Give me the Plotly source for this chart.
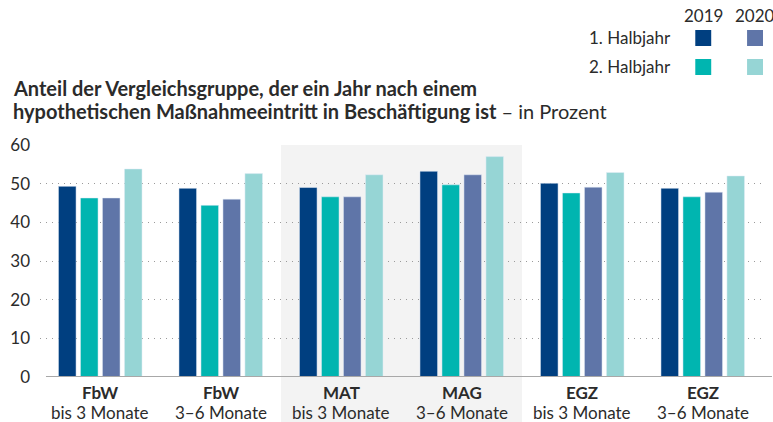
import plotly.graph_objects as go

# ---- data ----
cat_bold = ["FbW", "FbW", "MAT", "MAG", "EGZ", "EGZ"]
cat_sub = ["bis 3 Monate", "3–6 Monate", "bis 3 Monate", "3–6 Monate", "bis 3 Monate", "3–6 Monate"]
h1_2019 = [49.3, 48.8, 49.0, 53.2, 50.1, 48.8]
h2_2019 = [46.3, 44.4, 46.6, 49.7, 47.6, 46.6]
h1_2020 = [46.3, 46.0, 46.6, 52.3, 49.1, 47.8]
h2_2020 = [53.8, 52.6, 52.3, 57.0, 52.9, 52.0]
y_ticks = [0, 10, 20, 30, 40, 50, 60]

C_H1_19 = "#003f80"
C_H2_19 = "#00b5b0"
C_H1_20 = "#5f75a8"
C_H2_20 = "#96d5d5"

FONT = "Lato"
TXT = "#2b2b2b"

W, H = 773, 422
L, R, T, B = 37, 10, 145, 45
PW = W - L - R
PH = H - T - B


def px(x):
    return (x - L) / PW


def py(y):
    return (H - B - y) / PH


xs = list(range(len(cat_bold)))
fig = go.Figure()
for vals, col, name in [
    (h1_2019, C_H1_19, "2019 1. Halbjahr"),
    (h2_2019, C_H2_19, "2019 2. Halbjahr"),
    (h1_2020, C_H1_20, "2020 1. Halbjahr"),
    (h2_2020, C_H2_20, "2020 2. Halbjahr"),
]:
    fig.add_trace(go.Bar(x=xs, y=vals, marker_color=col, name=name,
                         showlegend=False, hoverinfo="y+name"))

shapes = []
# shaded background MAT / MAG
shapes.append(dict(type="rect", xref="x", yref="paper", x0=1.5, x1=3.5,
                   y0=py(H + 5), y1=1.0, fillcolor="#f3f3f3",
                   line_width=0, layer="below"))
# base line
shapes.append(dict(type="line", xref="paper", yref="y", x0=px(43), x1=px(772),
                   y0=0, y1=0, line=dict(color="#a8a8a8", width=2)))

annotations = []
# x labels
for i, (b, s) in enumerate(zip(cat_bold, cat_sub)):
    annotations.append(dict(x=i, y=py(392), xref="x", yref="paper", text=f"<b>{b}</b>",
                            showarrow=False, font=dict(size=17, color=TXT, family=FONT),
                            xanchor="center", yanchor="middle"))
    annotations.append(dict(x=i, y=py(412), xref="x", yref="paper", text=s,
                            showarrow=False, font=dict(size=17, color=TXT, family=FONT),
                            xanchor="center", yanchor="middle"))

# title
annotations.append(dict(x=px(8), y=py(88), xref="paper", yref="paper",
                        text="<b>Anteil der Vergleichsgruppe, der ein Jahr nach einem</b>",
                        showarrow=False, font=dict(size=20, color=TXT, family=FONT),
                        xanchor="left", yanchor="middle"))
annotations.append(dict(x=px(8), y=py(111), xref="paper", yref="paper",
                        text="<b>hypothetischen Maßnahmeeintritt in Beschäftigung ist</b> – in Prozent",
                        showarrow=False, font=dict(size=20, color=TXT, family=FONT),
                        xanchor="left", yanchor="middle"))

# legend
for yr, cx in [("2019", 703), ("2020", 755)]:
    annotations.append(dict(x=px(cx), y=py(15), xref="paper", yref="paper", text=yr,
                            showarrow=False, font=dict(size=17, color=TXT, family=FONT),
                            xanchor="center", yanchor="middle"))
for lab, cy in [("1. Halbjahr", 38), ("2. Halbjahr", 67)]:
    annotations.append(dict(x=px(673), y=py(cy), xref="paper", yref="paper", text=lab,
                            showarrow=False, font=dict(size=17, color=TXT, family=FONT),
                            xanchor="right", yanchor="middle"))
for col, x0, y0 in [(C_H1_19, 695, 30), (C_H1_20, 747, 30),
                    (C_H2_19, 695, 59), (C_H2_20, 747, 59)]:
    shapes.append(dict(type="rect", xref="paper", yref="paper",
                       x0=px(x0), x1=px(x0 + 16), y0=py(y0 + 16), y1=py(y0),
                       fillcolor=col, line_width=0))

fig.update_layout(
    width=W, height=H,
    margin=dict(l=L, r=R, t=T, b=B, pad=0),
    paper_bgcolor="white", plot_bgcolor="rgba(0,0,0,0)",
    barmode="group", bargap=0.27, bargroupgap=0.2,
    font=dict(family=FONT, color=TXT, size=16),
    shapes=shapes, annotations=annotations,
    xaxis=dict(range=[-0.5, 5.5], showticklabels=False, showgrid=False,
               zeroline=False, showline=False, fixedrange=True),
    yaxis=dict(range=[0, 60], tickvals=y_ticks, showgrid=True, gridcolor="#9a9a9a",
               griddash="1px,5px", gridwidth=1, zeroline=False, showline=False,
               ticks="", ticklabelstandoff=9, tickfont=dict(size=17, color=TXT, family=FONT),
               fixedrange=True),
)

fig.write_html("out.html", config={"displayModeBar": False},
               post_script="document.body.style.margin='0';")
